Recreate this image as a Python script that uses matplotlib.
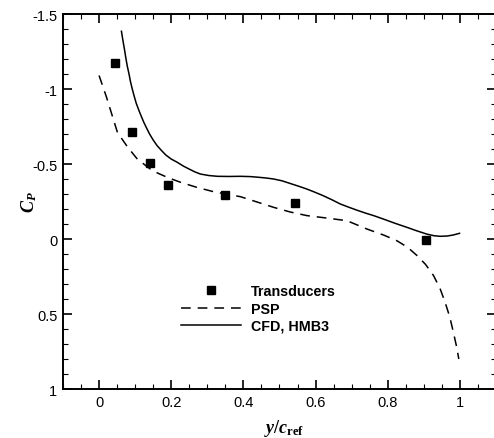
import matplotlib
matplotlib.use('Agg')
import matplotlib.pyplot as plt
from matplotlib.ticker import MultipleLocator

# Data
trans_x = [0.043, 0.090, 0.140, 0.190, 0.350, 0.544, 0.906]
trans_cp = [-1.175, -0.715, -0.510, -0.362, -0.293, -0.242, 0.005]

psp_x = [0.000, 0.020, 0.051, 0.080, 0.106, 0.148, 0.190, 0.226, 0.270, 0.318,
         0.392, 0.440, 0.484, 0.530, 0.576, 0.630, 0.687, 0.742, 0.790, 0.825,
         0.855, 0.881, 0.905, 0.927, 0.945, 0.959, 0.972, 0.982, 0.991, 0.997]
psp_cp = [-1.090, -0.950, -0.710, -0.610, -0.533, -0.455, -0.410, -0.378, -0.345, -0.315,
          -0.282, -0.245, -0.211, -0.180, -0.156, -0.140, -0.122, -0.067, -0.025, 0.011,
          0.055, 0.110, 0.170, 0.244, 0.330, 0.422, 0.520, 0.622, 0.720, 0.800]

cfd_x = [0.062, 0.066, 0.070, 0.074, 0.078, 0.083, 0.087, 0.092, 0.097, 0.103,
         0.110, 0.117, 0.124, 0.132, 0.140, 0.150, 0.161, 0.173, 0.185, 0.200,
         0.217, 0.233, 0.250, 0.265, 0.281, 0.305, 0.328, 0.360, 0.392, 0.420,
         0.440, 0.462, 0.484, 0.507, 0.530, 0.553, 0.576, 0.598, 0.620, 0.645,
         0.669, 0.692, 0.715, 0.738, 0.761, 0.788, 0.820, 0.853, 0.880, 0.908,
         0.928, 0.945, 0.965, 0.982, 0.999]
cfd_cp = [-1.385, -1.325, -1.270, -1.210, -1.155, -1.100, -1.050, -1.000, -0.955, -0.905,
          -0.860, -0.818, -0.778, -0.738, -0.700, -0.660, -0.622, -0.590, -0.560, -0.533,
          -0.511, -0.487, -0.466, -0.448, -0.433, -0.423, -0.418, -0.417, -0.418, -0.416,
          -0.412, -0.407, -0.400, -0.388, -0.370, -0.352, -0.333, -0.312, -0.290, -0.262,
          -0.233, -0.212, -0.192, -0.173, -0.156, -0.133, -0.105, -0.078, -0.055, -0.033,
          -0.022, -0.018, -0.020, -0.027, -0.038]

xticks = [0, 0.2, 0.4, 0.6, 0.8, 1]
xticklabels = ['0', '0.2', '0.4', '0.6', '0.8', '1']
yticks = [-1.5, -1, -0.5, 0, 0.5, 1]
yticklabels = ['-1.5', '-1', '-0.5', '0', '0.5', '1']

plt.rcParams['font.family'] = ['Liberation Sans', 'DejaVu Sans']
plt.rcParams['mathtext.fontset'] = 'custom'
plt.rcParams['mathtext.it'] = 'Liberation Serif:italic:bold'
plt.rcParams['mathtext.rm'] = 'Liberation Serif:bold'
plt.rcParams['mathtext.bf'] = 'Liberation Serif:bold'
plt.rcParams['lines.scale_dashes'] = False

fig = plt.figure(figsize=(4.94, 4.39), dpi=100)
ax = fig.add_axes([0.1275, 0.1116, 0.8765, 0.8542])

ax.plot(trans_x, trans_cp, 's', color='black', markersize=6, label='Transducers')
ax.plot(psp_x, psp_cp, color='black', lw=1.1, dashes=(7, 5), label='PSP')
ax.plot(cfd_x, cfd_cp, color='black', lw=1.1, label='CFD, HMB3')

ax.set_xlim(-0.1, 1.1)
ax.set_ylim(1, -1.5)								# Inverted Cp axis
ax.set_xticks(xticks, xticklabels)
ax.set_yticks(yticks, yticklabels)
ax.xaxis.set_minor_locator(MultipleLocator(0.05))
ax.yaxis.set_minor_locator(MultipleLocator(0.1))
ax.tick_params(which='both', direction='in', top=True, right=True, labelsize=10.5, pad=4)
ax.tick_params(which='major', length=6.5, width=1.2)
ax.tick_params(which='minor', length=3.5, width=0.8)
for s in ax.spines.values():
	s.set_linewidth(1.4)

ax.set_xlabel(r'$y/c_{\mathrm{ref}}$', fontsize=13)
ax.xaxis.set_label_coords(0.51, -0.075)
ax.set_ylabel(r'$C_P$', fontsize=13)
ax.yaxis.set_label_coords(-0.056, 0.5)

ax.legend(loc='upper left', bbox_to_anchor=(0.273, 0.279), frameon=False,
          prop={'weight': 'bold', 'size': 10.3}, handlelength=4.2, handletextpad=0.7,
          labelspacing=0.22, borderpad=0, borderaxespad=0)

fig.savefig('out.png', dpi=100)
